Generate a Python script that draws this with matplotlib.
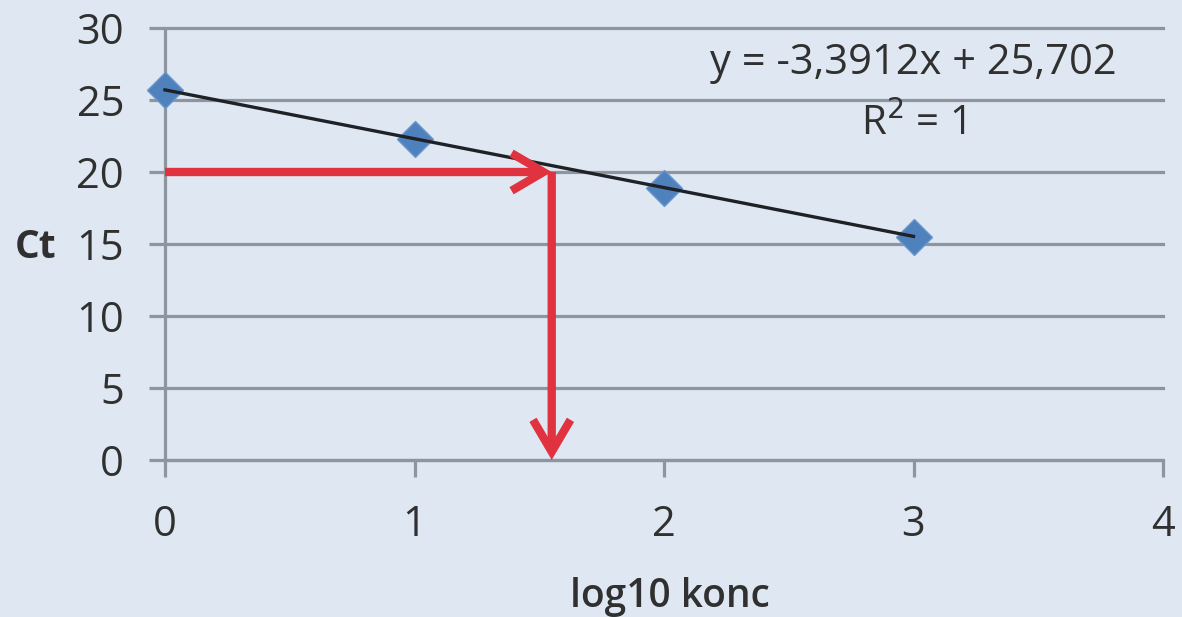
import matplotlib
matplotlib.use("Agg")
import matplotlib.pyplot as plt
import numpy as np

# ---- data ----
log_conc = [0, 1, 2, 3]
ct_values = [25.7, 22.3, 18.9, 15.5]
slope = -3.3912
intercept = 25.702
r_squared = 1
ct_sample = 20
log_conc_sample = 1.55
x_ticks = [0, 1, 2, 3, 4]
y_ticks = [0, 5, 10, 15, 20, 25, 30]
equation_text = "y = -3,3912x + 25,702"
r2_text = "R$^2$ = 1"

BG = "#dfe8f2"
GRID = "#8d969f"
BLUE = "#4f81bd"
RED = "#e1323f"
TXT = "#303030"

plt.rcParams['font.family'] = ['Open Sans', 'DejaVu Sans']

fig = plt.figure(figsize=(11.82, 6.17), dpi=100, facecolor=BG)
ax = fig.add_axes([165/1182, 1-460/617, 998/1182, 432/617])
ax.set_facecolor(BG)

ax.set_xlim(0, 4)
ax.set_ylim(0, 30)
ax.set_xticks(x_ticks)
ax.set_yticks(y_ticks)

for s in ["top", "right"]:
    ax.spines[s].set_visible(False)
for s in ["left", "bottom"]:
    ax.spines[s].set_color(GRID)
    ax.spines[s].set_linewidth(2.3)
    ax.spines[s].set_capstyle("butt")

ax.yaxis.grid(True, color=GRID, linewidth=2.3, clip_on=False)
ax.set_axisbelow(True)
ax.tick_params(axis="y", length=11.5, width=2.3, color=GRID, pad=18,
               labelsize=30, labelcolor=TXT)
ax.tick_params(axis="x", length=12, width=2.3, color=GRID, pad=20,
               labelsize=30, labelcolor=TXT)

# data markers
ax.plot(log_conc, ct_values, linestyle="none", marker="D", markersize=18.5,
        color=BLUE, markeredgecolor="#6a96cc", markeredgewidth=1, zorder=3,
        clip_on=False)

# trend line
xf = np.array([log_conc[0], log_conc[-1]], dtype=float)
ax.plot(xf, slope * xf + intercept, color="#1e2126", linewidth=2.4, zorder=4,
        clip_on=False)

# red arrows
arrow_kw = dict(arrowstyle="->,head_length=0.46,head_width=0.27",
                color=RED, linewidth=6, mutation_scale=50,
                shrinkA=0, shrinkB=0, capstyle="butt", joinstyle="miter")
ax.annotate("", xy=(log_conc_sample, ct_sample), xytext=(0, ct_sample),
            arrowprops=arrow_kw, zorder=5, annotation_clip=False)
ax.annotate("", xy=(log_conc_sample, 0), xytext=(log_conc_sample, ct_sample),
            arrowprops=arrow_kw, zorder=5, annotation_clip=False)

# equation text
ax.text(3.0, 27.6, equation_text, ha="center", va="center", fontsize=30,
        color=TXT)
ax.text(3.0, 23.3, r2_text, ha="center", va="center", fontsize=29,
        color=TXT)

ax.set_ylabel("Ct", rotation=0, fontsize=28, fontweight="bold", color=TXT,
              ha="center", va="center")
ax.yaxis.set_label_coords(-0.130, 0.491)
ax.set_xlabel("log10 konc", fontsize=28, fontweight="semibold", color=TXT,
              ha="center", va="center")
ax.xaxis.set_label_coords(0.506, -0.317)

fig.savefig("out.png", dpi=100, facecolor=BG)
